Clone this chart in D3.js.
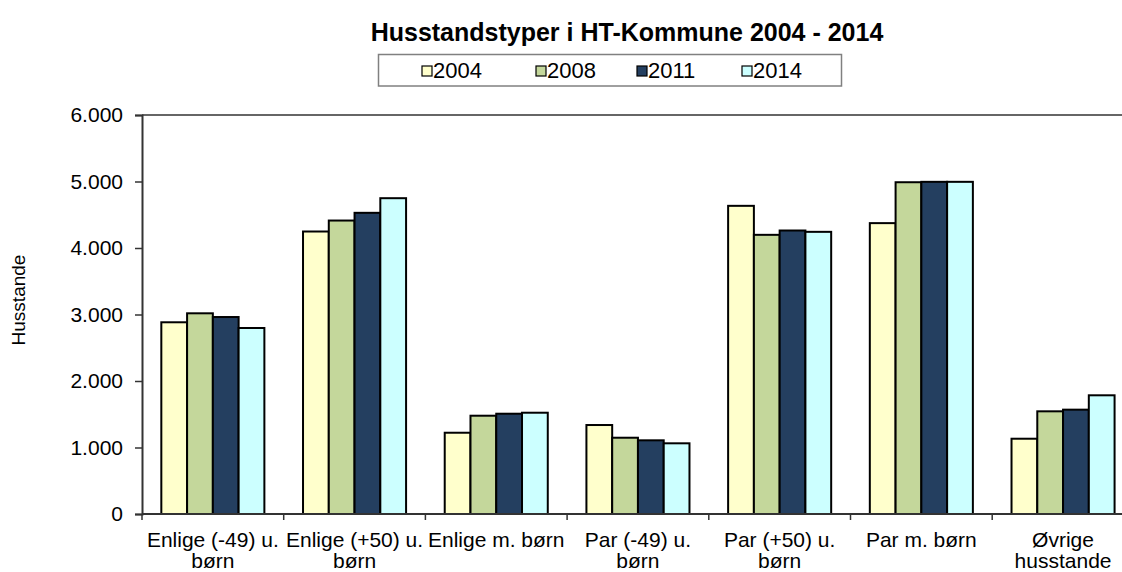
<!DOCTYPE html>
<html>
<head>
<meta charset="utf-8">
<script src="https://cdn.jsdelivr.net/npm/d3@7"></script>
<style>
  html, body { margin: 0; padding: 0; background: #fff; }
  svg { display: block; font-family: "Liberation Sans", Arial, sans-serif; }
</style>
</head>
<body>
<svg id="chart" width="1122" height="572"></svg>
<script>
// ---- data ----
const categories = [
  ["Enlige (-49) u.", "børn"],
  ["Enlige (+50) u.", "børn"],
  ["Enlige m. børn"],
  ["Par (-49) u.", "børn"],
  ["Par (+50) u.", "børn"],
  ["Par m. børn"],
  ["Øvrige", "husstande"]
];
const years = ["2004", "2008", "2011", "2014"];
const values2004 = [2883, 4248, 1222, 1338, 4634, 4374, 1132];
const values2008 = [3018, 4413, 1478, 1147, 4198, 4989, 1544];
const values2011 = [2962, 4529, 1508, 1108, 4263, 4995, 1569];
const values2014 = [2797, 4749, 1523, 1063, 4243, 4995, 1785];
const seriesValues = [values2004, values2008, values2011, values2014];
const yTicks = [0, 1000, 2000, 3000, 4000, 5000, 6000];
const colors = ["#FFFFCC", "#C4D79B", "#243F60", "#CCFFFF"];
const titleText = "Husstandstyper i HT-Kommune 2004 - 2014";
const yTitle = "Husstande";

// ---- layout ----
const svg = d3.select("#chart");
const W = 1122, H = 572;
const plot = { left: 142, top: 115, bottom: 514, step: 141.7 };
plot.right = plot.left + plot.step * categories.length;

svg.append("rect").attr("width", W).attr("height", H).attr("fill", "#fff");

const locale = d3.formatLocale({ decimal: ",", thousands: ".", grouping: [3], currency: ["", ""] });
const fmt = locale.format(",");

const x = d3.scaleBand().domain(d3.range(categories.length))
  .range([plot.left, plot.right]).paddingInner(0).paddingOuter(0);
const xs = d3.scaleBand().domain(years).range([0, x.bandwidth()])
  .paddingInner(0).paddingOuter(0.75);
const y = d3.scaleLinear().domain([0, 6000]).range([plot.bottom, plot.top]);

// top border of plot area
svg.append("line")
  .attr("x1", plot.left).attr("x2", plot.right)
  .attr("y1", y(6000)).attr("y2", y(6000))
  .attr("stroke", "#666").attr("stroke-width", 2);

// bars
const groups = svg.append("g").selectAll("g")
  .data(categories.map((c, i) => i)).join("g")
  .attr("transform", i => `translate(${x(i)},0)`);
groups.selectAll("rect")
  .data(i => years.map((yr, k) => ({ yr, k, v: seriesValues[k][i] })))
  .join("rect")
  .attr("x", d => xs(d.yr))
  .attr("width", xs.bandwidth())
  .attr("y", d => y(d.v))
  .attr("height", d => y(0) - y(d.v))
  .attr("fill", d => colors[d.k])
  .attr("stroke", "#000").attr("stroke-width", 2);

// y axis
const yAxis = d3.axisLeft(y).tickValues(yTicks).tickFormat(fmt).tickSize(7).tickPadding(12);
const ya = svg.append("g").attr("transform", `translate(${plot.left},0)`).call(yAxis);
ya.select(".domain").attr("stroke", "#333").attr("stroke-width", 2);
ya.selectAll(".tick line").attr("stroke", "#333").attr("stroke-width", 1.5);
ya.selectAll(".tick text").attr("font-size", 21).attr("fill", "#000")
  .attr("font-family", "Liberation Sans, Arial, sans-serif");

// x axis baseline and ticks at category boundaries
svg.append("line")
  .attr("x1", plot.left).attr("x2", plot.right)
  .attr("y1", y(0)).attr("y2", y(0))
  .attr("stroke", "#333").attr("stroke-width", 2);
const boundaries = d3.range(categories.length + 1);
svg.append("g").selectAll("line").data(boundaries).join("line")
  .attr("x1", i => plot.left + i * x.step()).attr("x2", i => plot.left + i * x.step())
  .attr("y1", y(0)).attr("y2", y(0) + 6)
  .attr("stroke", "#333").attr("stroke-width", 1.5);

// x labels
const xl = svg.append("g").selectAll("text").data(categories).join("text")
  .attr("x", (c, i) => x(i) + x.bandwidth() / 2)
  .attr("y", 547)
  .attr("text-anchor", "middle")
  .attr("font-size", 21).attr("fill", "#000");
xl.selectAll("tspan").data(c => c).join("tspan")
  .attr("x", function () { return d3.select(this.parentNode).attr("x"); })
  .attr("dy", (d, j) => j === 0 ? 0 : 21)
  .text(d => d);

// y title
svg.append("text")
  .attr("transform", "translate(25,300) rotate(-90)")
  .attr("text-anchor", "middle")
  .attr("font-size", 19).attr("fill", "#000")
  .text(yTitle);

// title
svg.append("text")
  .attr("x", 627).attr("y", 41)
  .attr("text-anchor", "middle")
  .attr("font-size", 25).attr("font-weight", "bold").attr("fill", "#000")
  .text(titleText);

// legend
const lg = svg.append("g");
lg.append("rect").attr("x", 378.5).attr("y", 54.5).attr("width", 463).attr("height", 31.5)
  .attr("fill", "#fff").attr("stroke", "#808080").attr("stroke-width", 1.5);
const lx = d3.scaleOrdinal().domain(years).range([422, 536, 637, 742]);
const items = lg.selectAll("g").data(years).join("g")
  .attr("transform", d => `translate(${lx(d)},0)`);
items.append("rect").attr("x", 0).attr("y", 66).attr("width", 10).attr("height", 10)
  .attr("fill", (d, i) => colors[i]).attr("stroke", "#000").attr("stroke-width", 1.2);
items.append("text").attr("x", 11).attr("y", 77.5)
  .attr("font-size", 22).attr("fill", "#000").text(d => d);
</script>
</body>
</html>
